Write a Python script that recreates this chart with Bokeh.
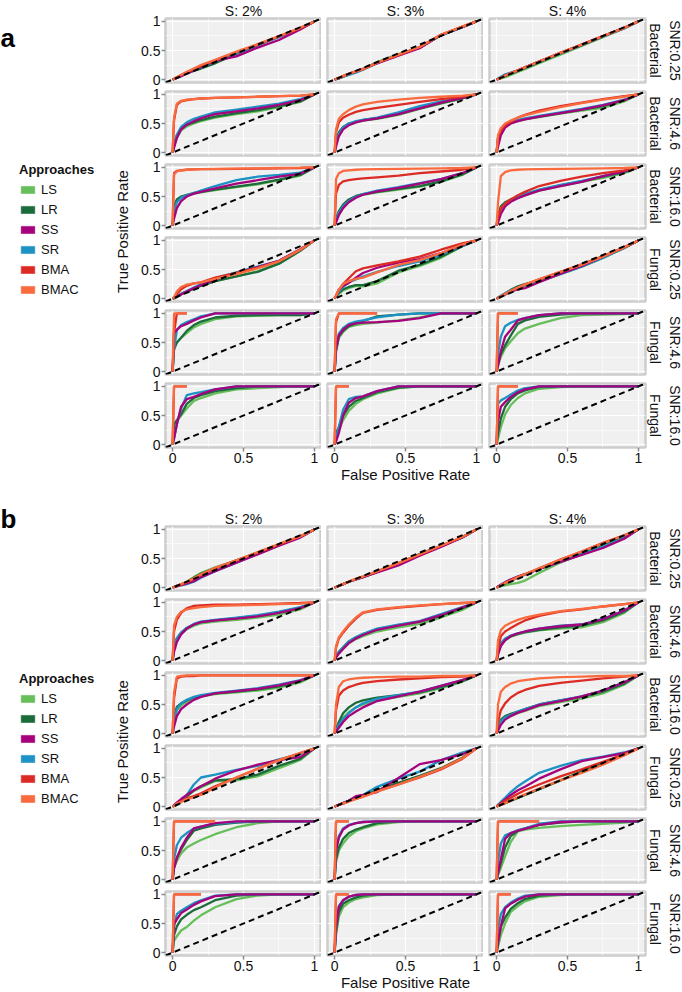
import numpy as np
from bokeh.plotting import figure
from bokeh.layouts import gridplot, row, column
from bokeh.models import (Range1d, FixedTicker, Slope, Title, Label, Legend,
                          LegendItem, Spacer, Grid)
from bokeh.embed import file_html
from bokeh.resources import INLINE

N = None
FONT = "Liberation Sans"

# ---------------- data ----------------
FPR = [0, 0.01, 0.03, 0.06, 0.1, 0.15, 0.2, 0.3, 0.45, 0.6, 0.75, 0.9, 1.0]
METHODS = ["LS", "LR", "SS", "SR", "BMA", "BMAC"]
COLORS = ["#66BF5A", "#1C6B3B", "#A6027E", "#1D92C4", "#DC2B25", "#F96B3E"]
DRAW_ORDER = ["LS", "LR", "SR", "SS", "BMA", "BMAC"]
COL_LABELS = ["S: 2%", "S: 3%", "S: 4%"]
SNR_LABELS = ["SNR:0.25", "SNR:4.6", "SNR:16.0", "SNR:0.25", "SNR:4.6", "SNR:16.0"]
ORG_LABELS = ["Bacterial", "Bacterial", "Bacterial", "Fungal", "Fungal", "Fungal"]
TICKS = [0, 0.5, 1]
TICK_LABELS = ["0", "0.5", "1"]
MINOR = [0.25, 0.75]
X_TITLE = "False Positive Rate"
Y_TITLE = "True Positive Rate"
LEGEND_TITLE = "Approaches"
PANEL_LETTERS = ["a", "b"]

# ---- panel a (TPR at FPR grid) ----
a_b025_s2 = dict(
    LS=[0, .01, .03, .06, .11, .16, .22, .32, .46, .60, .74, .88, 1],
    LR=[0, .01, .03, .07, .11, .15, .19, .28, .44, .59, .74, .88, 1],
    SS=[0, .01, .03, .06, .10, .16, .22, .32, .40, .55, .68, .86, 1],
    SR=[0, .01, .03, .06, .11, .16, .22, .31, .45, .59, .73, .88, 1],
    BMA=[0, .01, .04, .08, .13, .18, .24, .33, .47, .60, .74, .88, 1],
    BMAC=[0, .01, .04, .08, .13, .19, .25, .34, .48, .61, .75, .89, 1])
a_b025_s3 = dict(
    LS=[0, .01, .02, .05, .09, .13, .18, .30, .44, .55, .76, .90, 1],
    LR=[0, .01, .02, .05, .09, .13, .18, .29, .43, .55, .76, .90, 1],
    SS=[0, .01, .03, .06, .10, .14, .18, .28, .41, .54, .77, .90, 1],
    SR=[0, .01, .02, .05, .08, .12, .17, .28, .42, .55, .76, .90, 1],
    BMA=[0, .01, .03, .06, .10, .14, .18, .29, .42, .56, .77, .91, 1],
    BMAC=[0, .01, .03, .06, .10, .14, .18, .29, .43, .56, .77, .91, 1])
a_b025_s4 = dict(
    LS=[0, .01, .02, .04, .08, .13, .18, .28, .43, .58, .73, .88, 1],
    LR=[0, .01, .03, .06, .10, .15, .20, .30, .45, .59, .74, .89, 1],
    SS=[0, .01, .03, .07, .11, .16, .21, .31, .46, .60, .75, .89, 1],
    SR=[0, .02, .05, .09, .12, .16, .21, .31, .45, .59, .74, .88, 1],
    BMA=[0, .01, .03, .07, .11, .16, .21, .31, .46, .60, .75, .89, 1],
    BMAC=[0, .01, .03, .07, .11, .16, .21, .31, .46, .60, .75, .89, 1])
a_b46_s2 = dict(
    LS=[0, .12, .25, .38, .45, .50, .54, .60, .66, .71, .78, .87, 1],
    LR=[0, .15, .30, .42, .48, .52, .56, .62, .68, .73, .80, .88, 1],
    SS=[0, .08, .25, .40, .48, .54, .59, .66, .71, .76, .82, .90, 1],
    SR=[0, .12, .30, .44, .52, .58, .62, .69, .74, .79, .84, .92, 1],
    BMA=[0, .55, .82, .88, .90, .92, .93, .94, .95, .96, .97, .98, 1],
    BMAC=[0, .60, .84, .89, .91, .92, .93, .94, .95, .96, .97, .98, 1])
a_b46_s3 = dict(
    LS=[0, .15, .32, .42, .48, .52, .55, .58, .65, .75, .84, .93, 1],
    LR=[0, .18, .35, .44, .50, .53, .56, .59, .66, .76, .85, .93, 1],
    SS=[0, .10, .28, .40, .47, .52, .55, .59, .66, .76, .86, .94, 1],
    SR=[0, .15, .32, .43, .50, .54, .56, .60, .69, .80, .88, .95, 1],
    BMA=[0, .35, .52, .60, .65, .70, .73, .77, .82, .87, .92, .96, 1],
    BMAC=[0, .40, .58, .66, .73, .79, .83, .87, .91, .94, .96, .98, 1])
a_b46_s4 = dict(
    LS=[0, .20, .36, .45, .50, .54, .57, .61, .67, .72, .77, .88, 1],
    LR=[0, .25, .40, .47, .52, .55, .58, .62, .68, .74, .80, .90, 1],
    SS=[0, .10, .30, .43, .50, .54, .57, .62, .68, .74, .81, .90, 1],
    SR=[0, .20, .38, .47, .52, .56, .59, .63, .69, .75, .82, .91, 1],
    BMA=[0, .25, .38, .47, .53, .60, .65, .72, .80, .86, .92, .97, 1],
    BMAC=[0, .30, .42, .50, .55, .60, .64, .70, .78, .85, .91, .96, 1])
a_b16_s2 = dict(
    LS=[0, .28, .42, .48, .52, .55, .57, .61, .66, .71, .78, .86, 1],
    LR=[0, .33, .45, .50, .53, .56, .58, .62, .67, .72, .79, .87, 1],
    SS=[0, .12, .30, .42, .50, .55, .58, .64, .72, .78, .84, .89, 1],
    SR=[0, .25, .40, .48, .52, .56, .60, .68, .78, .84, .87, .91, 1],
    BMA=[0, .90, .94, .95, .96, .965, .97, .97, .975, .98, .985, .99, 1],
    BMAC=[0, .88, .93, .95, .96, .965, .97, .975, .98, .985, .99, .995, 1])
a_b16_s3 = dict(
    LS=[0, .10, .22, .32, .42, .49, .53, .57, .62, .67, .75, .87, 1],
    LR=[0, .12, .25, .36, .45, .51, .54, .58, .63, .68, .76, .88, 1],
    SS=[0, .05, .18, .30, .40, .48, .53, .59, .65, .72, .80, .90, 1],
    SR=[0, .10, .22, .33, .42, .50, .54, .60, .66, .73, .80, .90, 1],
    BMA=[0, .55, .70, .76, .78, .80, .81, .83, .86, .90, .93, .96, 1],
    BMAC=[0, .80, .90, .94, .95, .96, .965, .97, .975, .98, .985, .99, 1])
a_b16_s4 = dict(
    LS=[0, .15, .30, .38, .43, .48, .52, .60, .68, .75, .82, .90, 1],
    LR=[0, .18, .33, .40, .45, .50, .54, .61, .69, .76, .84, .92, 1],
    SS=[0, .05, .20, .33, .41, .47, .52, .60, .68, .75, .85, .93, 1],
    SR=[0, .12, .28, .38, .44, .50, .54, .62, .70, .77, .85, .93, 1],
    BMA=[0, .15, .30, .38, .45, .52, .58, .68, .77, .84, .90, .95, 1],
    BMAC=[0, .40, .85, .92, .95, .96, .965, .97, .975, .98, .985, .99, 1])
a_f025_s2 = dict(
    LS=[0, 0, .02, .08, .12, .17, .22, .30, .38, .47, .60, .82, 1],
    LR=[0, .01, .04, .08, .12, .17, .22, .30, .38, .46, .60, .82, 1],
    SS=[0, .01, .03, .07, .12, .18, .23, .33, .44, .54, .65, .85, 1],
    SR=[0, .01, .04, .08, .13, .19, .25, .35, .45, .55, .65, .84, 1],
    BMA=[0, .02, .08, .16, .22, .26, .28, .36, .44, .53, .64, .84, 1],
    BMAC=[0, .02, .12, .20, .24, .26, .28, .34, .42, .52, .64, .84, 1])
a_f025_s3 = dict(
    LS=[0, .03, .08, .14, .18, .22, .21, .26, .45, .56, .70, .90, 1],
    LR=[0, .04, .10, .16, .20, .23, .23, .30, .48, .58, .72, .90, 1],
    SS=[0, .05, .15, .22, .27, .36, .44, .53, .62, .68, .78, .92, 1],
    SR=[0, .04, .12, .20, .28, .33, .38, .46, .56, .64, .75, .91, 1],
    BMA=[0, .05, .15, .25, .35, .47, .52, .57, .64, .72, .84, .95, 1],
    BMAC=[0, .05, .15, .25, .30, .34, .36, .45, .58, .66, .78, .93, 1])
a_f025_s4 = dict(
    LS=[0, .01, .03, .07, .12, .18, .22, .29, .42, .55, .70, .87, 1],
    LR=[0, .01, .04, .09, .15, .21, .25, .31, .43, .56, .71, .87, 1],
    SS=[0, .01, .03, .07, .12, .16, .18, .28, .43, .56, .72, .88, 1],
    SR=[0, .02, .05, .09, .14, .19, .23, .30, .42, .55, .70, .87, 1],
    BMA=[0, .01, .04, .08, .13, .19, .24, .33, .46, .59, .73, .88, 1],
    BMAC=[0, .01, .04, .08, .13, .19, .24, .33, .46, .58, .72, .88, 1])
a_f46_s2 = dict(
    LS=[0, .44, .50, .58, .66, .76, .82, .90, .95, .96, .97, .97, 1],
    LR=[0, .38, .50, .58, .70, .80, .86, .93, .96, .97, .97, .97, 1],
    SS=[0, .66, .72, .78, .82, .88, .93, 1, 1, 1, 1, 1, 1],
    SR=[0, .38, .71, .80, .85, .90, .95, 1, 1, 1, 1, 1, 1],
    BMA=[0, .66, 1, 1, 1] + [N] * 8,
    BMAC=[0, 1, 1, 1, 1] + [N] * 8)
a_f46_s3 = dict(
    LS=[0, .35, .58, .68, .77, .80, .82, .84, .88, .93, 1, 1, 1],
    LR=[0, .35, .60, .70, .78, .83, .87, .95, .98, 1, 1, 1, 1],
    SS=[0, .40, .62, .72, .80, .83, .84, .85, .87, .92, 1, 1, 1],
    SR=[0, .40, .65, .75, .82, .86, .88, .93, .98, 1, 1, 1, 1],
    BMA=[0, .85, 1, 1, 1, 1, 1, 1] + [N] * 5,
    BMAC=[0, .90, 1, 1, 1, 1, 1, 1] + [N] * 5)
a_f46_s4 = dict(
    LS=[0, .10, .25, .40, .52, .66, .74, .82, .92, .97, .98, .99, 1],
    LR=[0, .15, .30, .45, .62, .82, .88, .94, .98, 1, 1, 1, 1],
    SS=[0, .10, .35, .60, .72, .88, .92, .97, 1, 1, 1, 1, 1],
    SR=[0, .30, .60, .78, .84, .89, .92, .97, 1, 1, 1, 1, 1],
    BMA=[0, 1, 1, 1, 1, 1] + [N] * 7,
    BMAC=[0, 1, 1, 1, 1, 1] + [N] * 7)
a_f16_s2 = dict(
    LS=[0, .33, .40, .50, .62, .75, .80, .88, .95, .97, .99, 1, 1],
    LR=[0, .35, .42, .52, .70, .80, .85, .92, .97, 1, 1, 1, 1],
    SS=[0, .10, .35, .65, .78, .82, .87, .95, 1, 1, 1, 1, 1],
    SR=[0, .10, .35, .62, .85, .88, .90, .95, 1, 1, 1, 1, 1],
    BMA=[0, 1, 1, 1, 1] + [N] * 8,
    BMAC=[0, 1, 1, 1, 1] + [N] * 8)
a_f16_s3 = dict(
    LS=[0, .15, .25, .42, .58, .70, .78, .88, .97, 1, 1, 1, 1],
    LR=[0, .20, .30, .50, .65, .75, .80, .90, .98, 1, 1, 1, 1],
    SS=[0, .05, .20, .50, .72, .80, .83, .92, 1, 1, 1, 1, 1],
    SR=[0, .10, .30, .60, .78, .82, .83, .92, 1, 1, 1, 1, 1],
    BMA=[0, 1, 1, 1, 1] + [N] * 8,
    BMAC=[0, 1, 1, 1, 1] + [N] * 8)
a_f16_s4 = dict(
    LS=[0, .10, .30, .52, .68, .80, .88, .96, .99, 1, 1, 1, 1],
    LR=[0, .20, .45, .65, .78, .88, .93, .99, 1, 1, 1, 1, 1],
    SS=[0, .40, .65, .73, .82, .90, .95, 1, 1, 1, 1, 1, 1],
    SR=[0, .70, .76, .80, .86, .93, .97, 1, 1, 1, 1, 1, 1],
    BMA=[0, 1, 1, 1, 1, 1] + [N] * 7,
    BMAC=[0, 1, 1, 1, 1, 1] + [N] * 7)

# ---- panel b ----
b_b025_s2 = dict(
    LS=[0, .01, .03, .05, .10, .18, .25, .35, .47, .60, .74, .87, 1],
    LR=[0, .01, .03, .05, .10, .17, .24, .33, .46, .59, .73, .87, 1],
    SS=[0, .01, .02, .04, .07, .11, .18, .28, .43, .57, .72, .86, 1],
    SR=[0, .01, .02, .04, .06, .10, .17, .28, .43, .58, .73, .87, 1],
    BMA=[0, .01, .03, .05, .09, .15, .22, .33, .47, .60, .74, .88, 1],
    BMAC=[0, .01, .03, .06, .10, .16, .23, .34, .47, .61, .75, .88, 1])
b_b025_s3 = dict(
    LS=[0, .01, .03, .06, .10, .14, .18, .27, .41, .57, .71, .86, 1],
    LR=[0, .01, .03, .06, .10, .14, .18, .27, .41, .56, .71, .86, 1],
    SS=[0, .01, .03, .06, .10, .14, .18, .26, .38, .55, .70, .86, 1],
    SR=[0, .01, .03, .06, .10, .14, .18, .27, .40, .58, .72, .86, 1],
    BMA=[0, .01, .03, .06, .10, .15, .19, .28, .42, .57, .72, .87, 1],
    BMAC=[0, .01, .03, .06, .10, .15, .19, .28, .42, .57, .72, .87, 1])
b_b025_s4 = dict(
    LS=[0, .01, .02, .04, .06, .08, .12, .25, .43, .58, .73, .88, 1],
    LR=[0, .01, .03, .07, .12, .17, .22, .32, .46, .60, .74, .88, 1],
    SS=[0, .02, .05, .09, .14, .19, .23, .32, .44, .56, .68, .84, 1],
    SR=[0, .02, .05, .09, .14, .19, .23, .32, .44, .57, .70, .85, 1],
    BMA=[0, .01, .04, .08, .12, .18, .23, .33, .48, .62, .77, .90, 1],
    BMAC=[0, .01, .04, .08, .12, .18, .23, .33, .48, .62, .76, .90, 1])
b_b46_s2 = dict(
    LS=[0, .20, .35, .46, .54, .60, .64, .67, .70, .74, .79, .88, 1],
    LR=[0, .25, .38, .48, .56, .62, .66, .69, .73, .77, .83, .91, 1],
    SS=[0, .15, .32, .45, .55, .62, .66, .69, .72, .76, .82, .90, 1],
    SR=[0, .25, .38, .48, .56, .63, .67, .70, .74, .78, .84, .92, 1],
    BMA=[0, .50, .70, .82, .90, .94, .95, .96, .96, .97, .98, .99, 1],
    BMAC=[0, .60, .75, .84, .88, .90, .92, .94, .95, .96, .97, .98, 1])
b_b46_s3 = dict(
    LS=[0, .06, .13, .21, .30, .37, .42, .50, .57, .63, .74, .87, 1],
    LR=[0, .08, .15, .23, .33, .40, .45, .54, .61, .67, .77, .90, 1],
    SS=[0, .05, .12, .20, .30, .38, .44, .53, .60, .67, .78, .91, 1],
    SR=[0, .08, .15, .22, .33, .40, .46, .55, .62, .68, .80, .92, 1],
    BMA=[0, .22, .38, .48, .60, .72, .82, .87, .91, .94, .97, .99, 1],
    BMAC=[0, .25, .40, .50, .62, .74, .83, .88, .92, .95, .97, .99, 1])
b_b46_s4 = dict(
    LS=[0, .12, .26, .35, .41, .45, .48, .52, .55, .57, .66, .82, 1],
    LR=[0, .15, .28, .36, .42, .46, .49, .53, .57, .60, .69, .84, 1],
    SS=[0, .10, .25, .35, .42, .47, .50, .55, .59, .62, .71, .86, 1],
    SR=[0, .15, .30, .38, .43, .47, .50, .55, .60, .62, .72, .86, 1],
    BMA=[0, .20, .42, .50, .56, .63, .69, .77, .84, .88, .93, .97, 1],
    BMAC=[0, .35, .52, .60, .65, .70, .74, .79, .85, .89, .93, .97, 1])
b_b16_s2 = dict(
    LS=[0, .20, .40, .48, .55, .60, .64, .68, .71, .74, .79, .88, 1],
    LR=[0, .28, .46, .52, .57, .62, .65, .69, .72, .76, .81, .90, 1],
    SS=[0, .12, .30, .42, .50, .58, .63, .69, .73, .77, .83, .91, 1],
    SR=[0, .20, .42, .52, .58, .63, .66, .70, .74, .78, .84, .92, 1],
    BMA=[0, .60, .95, .98, .99, .99, 1, 1, 1, 1, 1, 1, 1],
    BMAC=[0, .70, .98, .99, 1, 1, 1, 1, 1, 1, 1, 1, 1])
b_b16_s3 = dict(
    LS=[0, .05, .15, .27, .37, .45, .50, .57, .63, .69, .78, .89, 1],
    LR=[0, .08, .20, .35, .45, .53, .57, .62, .66, .71, .80, .90, 1],
    SS=[0, .03, .10, .20, .30, .38, .45, .56, .64, .72, .82, .92, 1],
    SR=[0, .05, .15, .25, .35, .45, .52, .60, .66, .72, .82, .92, 1],
    BMA=[0, .40, .65, .74, .80, .84, .87, .90, .93, .95, .97, .98, 1],
    BMAC=[0, .50, .80, .90, .93, .95, .96, .97, .98, .98, .99, .99, 1])
b_b16_s4 = dict(
    LS=[0, .08, .20, .27, .31, .35, .39, .47, .54, .60, .69, .84, 1],
    LR=[0, .12, .24, .30, .34, .38, .42, .50, .57, .63, .72, .86, 1],
    SS=[0, .05, .15, .24, .30, .36, .40, .49, .56, .64, .74, .88, 1],
    SR=[0, .10, .22, .28, .32, .38, .42, .50, .57, .64, .74, .88, 1],
    BMA=[0, .20, .40, .52, .62, .70, .75, .82, .87, .91, .95, .98, 1],
    BMAC=[0, .50, .72, .80, .86, .90, .92, .95, .97, .98, .99, .99, 1])
b_f025_s2 = dict(
    LS=[0, .01, .03, .08, .17, .27, .33, .44, .45, .52, .66, .80, 1],
    LR=[0, .01, .03, .10, .18, .28, .35, .45, .47, .55, .70, .82, 1],
    SS=[0, .02, .07, .13, .20, .28, .35, .48, .62, .72, .80, .85, 1],
    SR=[0, .02, .06, .10, .20, .38, .50, .55, .63, .70, .81, .90, 1],
    BMA=[0, .01, .05, .09, .14, .18, .23, .35, .50, .65, .80, .92, 1],
    BMAC=[0, .01, .05, .08, .13, .16, .20, .33, .50, .65, .80, .92, 1])
b_f025_s3 = dict(
    LS=[0, .01, .03, .06, .10, .15, .19, .28, .40, .52, .65, .83, 1],
    LR=[0, .01, .03, .06, .10, .15, .19, .28, .41, .53, .66, .84, 1],
    SS=[0, .01, .03, .06, .10, .18, .20, .25, .49, .73, .80, .90, 1],
    SR=[0, .01, .03, .06, .10, .16, .20, .34, .48, .60, .80, .93, 1],
    BMA=[0, .01, .03, .05, .09, .13, .17, .26, .38, .50, .64, .82, 1],
    BMAC=[0, .01, .03, .05, .09, .13, .17, .26, .38, .51, .65, .83, 1])
b_f025_s4 = dict(
    LS=[0, .01, .03, .06, .10, .15, .20, .30, .45, .60, .75, .90, 1],
    LR=[0, .01, .03, .06, .10, .15, .20, .30, .45, .60, .75, .90, 1],
    SS=[0, .02, .06, .12, .20, .28, .34, .48, .64, .78, .85, .92, 1],
    SR=[0, .03, .08, .15, .25, .35, .43, .58, .70, .80, .86, .93, 1],
    BMA=[0, .02, .05, .10, .15, .22, .28, .38, .52, .64, .77, .90, 1],
    BMAC=[0, .01, .03, .06, .10, .16, .21, .31, .45, .58, .72, .88, 1])
b_f46_s2 = dict(
    LS=[0, .20, .32, .45, .55, .62, .68, .78, .90, .97, 1, 1, 1],
    LR=[0, .20, .38, .52, .68, .84, .88, .94, .98, 1, 1, 1, 1],
    SS=[0, .20, .37, .55, .72, .88, .91, .97, 1, 1, 1, 1, 1],
    SR=[0, .35, .59, .72, .80, .88, .91, .96, .99, 1, 1, 1, 1],
    BMA=[0, 1, 1, 1, 1, 1, 1, 1] + [N] * 5,
    BMAC=[0, 1, 1, 1, 1, 1, 1, 1] + [N] * 5)
b_f46_s3 = dict(
    LS=[0, .30, .50, .62, .74, .83, .88, .95, .99, 1, 1, 1, 1],
    LR=[0, .35, .55, .70, .80, .86, .90, .97, 1, 1, 1, 1, 1],
    SS=[0, .50, .72, .86, .93, .97, .99, 1, 1, 1, 1, 1, 1],
    SR=[0, .50, .75, .88, .94, .97, .99, 1, 1, 1, 1, 1, 1],
    BMA=[0, 1, 1, 1, 1] + [N] * 8,
    BMAC=[0, 1, 1, 1, 1] + [N] * 8)
b_f46_s4 = dict(
    LS=[0, .08, .20, .40, .65, .83, .86, .89, .92, .94, .96, .98, 1],
    LR=[0, .10, .28, .55, .75, .84, .88, .94, .98, 1, 1, 1, 1],
    SS=[0, .12, .35, .70, .80, .84, .87, .94, .99, 1, 1, 1, 1],
    SR=[0, .30, .62, .76, .80, .85, .88, .96, 1, 1, 1, 1, 1],
    BMA=[0, 1, 1, 1, 1, 1, 1, 1] + [N] * 5,
    BMAC=[0, 1, 1, 1, 1, 1, 1, 1] + [N] * 5)
b_f16_s2 = dict(
    LS=[0, .20, .28, .38, .44, .55, .64, .78, .92, .98, 1, 1, 1],
    LR=[0, .30, .45, .57, .65, .73, .78, .90, .98, 1, 1, 1, 1],
    SS=[0, .49, .57, .68, .74, .82, .88, .97, 1, 1, 1, 1, 1],
    SR=[0, .45, .66, .72, .78, .85, .90, .98, 1, 1, 1, 1, 1],
    BMA=[0, 1, 1, 1, 1, 1, 1] + [N] * 6,
    BMAC=[0, 1, 1, 1, 1, 1, 1] + [N] * 6)
b_f16_s3 = dict(
    LS=[0, .30, .62, .78, .86, .92, .95, .99, 1, 1, 1, 1, 1],
    LR=[0, .35, .70, .84, .90, .95, .98, 1, 1, 1, 1, 1, 1],
    SS=[0, .45, .78, .90, .96, .99, 1, 1, 1, 1, 1, 1, 1],
    SR=[0, .45, .80, .90, .96, .99, 1, 1, 1, 1, 1, 1, 1],
    BMA=[0, 1, 1, 1, 1] + [N] * 8,
    BMAC=[0, 1, 1, 1, 1] + [N] * 8)
b_f16_s4 = dict(
    LS=[0, .10, .30, .50, .70, .80, .88, .96, .99, 1, 1, 1, 1],
    LR=[0, .15, .45, .60, .75, .85, .92, .98, 1, 1, 1, 1, 1],
    SS=[0, .20, .45, .76, .84, .91, .96, 1, 1, 1, 1, 1, 1],
    SR=[0, .40, .66, .78, .86, .93, .98, 1, 1, 1, 1, 1, 1],
    BMA=[0, 1, 1, 1, 1] + [N] * 8,
    BMAC=[0, 1, 1, 1, 1] + [N] * 8)

PANEL_A = [[a_b025_s2, a_b025_s3, a_b025_s4],
           [a_b46_s2, a_b46_s3, a_b46_s4],
           [a_b16_s2, a_b16_s3, a_b16_s4],
           [a_f025_s2, a_f025_s3, a_f025_s4],
           [a_f46_s2, a_f46_s3, a_f46_s4],
           [a_f16_s2, a_f16_s3, a_f16_s4]]
PANEL_B = [[b_b025_s2, b_b025_s3, b_b025_s4],
           [b_b46_s2, b_b46_s3, b_b46_s4],
           [b_b16_s2, b_b16_s3, b_b16_s4],
           [b_f025_s2, b_f025_s3, b_f025_s4],
           [b_f46_s2, b_f46_s3, b_f46_s4],
           [b_f16_s2, b_f16_s3, b_f16_s4]]

# ---------------- styling / layout ----------------
BG = "#F0F0F0"
BORDER = "#CDCDCD"
TICK_COLOR = "#8A8A8A"
TEXT = "#111111"
FW, FH = 156, 64
NR, NC = 6, 3
LW = 130            # left column (letters, legend, y title)
TOP0, GAP_T, GAP_B, BOT = 16, 4, 5, 39
SPACER = 22
GRID_H = TOP0 + NR * FH + (NR - 1) * (GAP_T + GAP_B) + BOT
LH = 2 * GRID_H + SPACER


def make_cell(data, r, c):
    first_row, last_row = r == 0, r == NR - 1
    first_col, last_col = c == 0, c == NC - 1
    p = figure(frame_width=FW, frame_height=FH,
               x_range=Range1d(-0.05, 1.05), y_range=Range1d(-0.05, 1.05),
               x_axis_location="below" if last_row else None,
               y_axis_location="left" if first_col else None,
               min_border_left=35 if first_col else 6,
               min_border_right=37 if last_col else 0,
               min_border_top=TOP0 if first_row else GAP_T,
               min_border_bottom=BOT if last_row else GAP_B,
               output_backend="svg", toolbar_location=None,
               background_fill_color=BG, border_fill_color="white",
               outline_line_color=BORDER, outline_line_width=2.5,
               title=COL_LABELS[c] if first_row else None)
    for g in p.grid:
        g.visible = False
    for dim in (0, 1):
        g = Grid(dimension=dim, ticker=FixedTicker(ticks=TICKS, minor_ticks=MINOR),
                 grid_line_color="white", grid_line_width=1.2,
                 minor_grid_line_color="white", minor_grid_line_width=0.6)
        p.add_layout(g)
    if first_row:
        p.title.align = "center"
        p.title.text_font = FONT
        p.title.text_font_size = "14px"
        p.title.text_font_style = "normal"
        p.title.text_color = TEXT
        try:
            p.title.standoff = 0
        except Exception:
            pass
    axes = []
    if last_row:
        axes += list(p.xaxis)
        if c == 1:
            p.xaxis.axis_label = X_TITLE
    if first_col:
        axes += list(p.yaxis)
    for ax in axes:
        ax.ticker = FixedTicker(ticks=TICKS)
        ax.major_label_overrides = dict(zip(TICKS, TICK_LABELS))
        ax.axis_line_color = None
        ax.major_tick_line_color = TICK_COLOR
        ax.major_tick_line_width = 1.5
        ax.major_tick_out = 4
        ax.major_tick_in = 0
        ax.minor_tick_line_color = None
        ax.major_label_text_font = FONT
        ax.major_label_text_font_size = "14px"
        ax.major_label_text_color = TEXT
        ax.major_label_standoff = 1
        ax.axis_label_text_font = FONT
        ax.axis_label_text_font_size = "15px"
        ax.axis_label_text_font_style = "normal"
        ax.axis_label_text_color = TEXT
        ax.axis_label_standoff = 0
    if last_col:
        for txt, so in ((ORG_LABELS[r], 2), (SNR_LABELS[r], 3)):
            t = Title(text=txt, align="center", text_font=FONT, text_font_size="14px",
                      text_font_style="normal", text_color=TEXT)
            try:
                t.standoff = so
            except Exception:
                pass
            p.add_layout(t, "right")
    for m in DRAW_ORDER:
        y = np.array(data[m], dtype=float)
        p.line(FPR, y, line_color=COLORS[METHODS.index(m)], line_width=2.3)
    p.add_layout(Slope(gradient=1, y_intercept=0, line_color="black",
                       line_width=2, line_dash="6 4"))
    return p


def make_grid(panel):
    rows = [[make_cell(panel[r][c], r, c) for c in range(NC)] for r in range(NR)]
    return gridplot(rows, toolbar_location=None)


grid_a = make_grid(PANEL_A)
grid_b = make_grid(PANEL_B)

# ---------------- left column: letters, legends, y titles ----------------
left = figure(width=LW, height=LH, x_range=Range1d(0, LW), y_range=Range1d(LH, 0),
              x_axis_location=None, y_axis_location=None, min_border=0,
              outline_line_color=None, output_backend="svg", toolbar_location=None,
              background_fill_color="white", border_fill_color="white")
for g in left.grid:
    g.visible = False

# legend key swatches (kept outside the visible range; only their legend glyphs show)
dummies = []
for m, col in zip(METHODS, COLORS):
    dummies.append(left.quad(left=[-30], right=[-20], top=[-30], bottom=[-20],
                             fill_color=col, line_color=col, line_alpha=0.5))

LEG_TOP = [162, 671]
LETTER_BASE = [37, 518]
YT_CENTER = [231, 741]
for k in range(2):
    leg = Legend(items=[LegendItem(label=m, renderers=[r]) for m, r in zip(METHODS, dummies)],
                 title=LEGEND_TITLE, location=(19, LH - LEG_TOP[k] - 135),
                 title_text_font=FONT, title_text_font_size="13px",
                 title_text_font_style="bold", title_text_color=TEXT, title_standoff=4,
                 label_text_font=FONT, label_text_font_size="13px", label_text_color=TEXT,
                 glyph_width=17, glyph_height=9, label_height=16, spacing=4,
                 label_standoff=5, padding=0, margin=0,
                 border_line_color=None, background_fill_alpha=0)
    left.add_layout(leg)
    left.add_layout(Label(x=0, y=LETTER_BASE[k], text=PANEL_LETTERS[k],
                          text_font=FONT, text_font_size="26px", text_font_style="bold",
                          text_align="left", text_baseline="alphabetic", text_color="black"))
    left.add_layout(Label(x=122, y=YT_CENTER[k], text=Y_TITLE, angle=np.pi / 2,
                          text_font=FONT, text_font_size="15px", text_align="center",
                          text_baseline="middle", text_color=TEXT))

layout = row(left, column(grid_a, Spacer(width=3 * FW + 35 + 12 + 37, height=SPACER), grid_b))

with open("out.html", "w") as f:
    f.write(file_html(layout, INLINE, title="ROC curves"))
